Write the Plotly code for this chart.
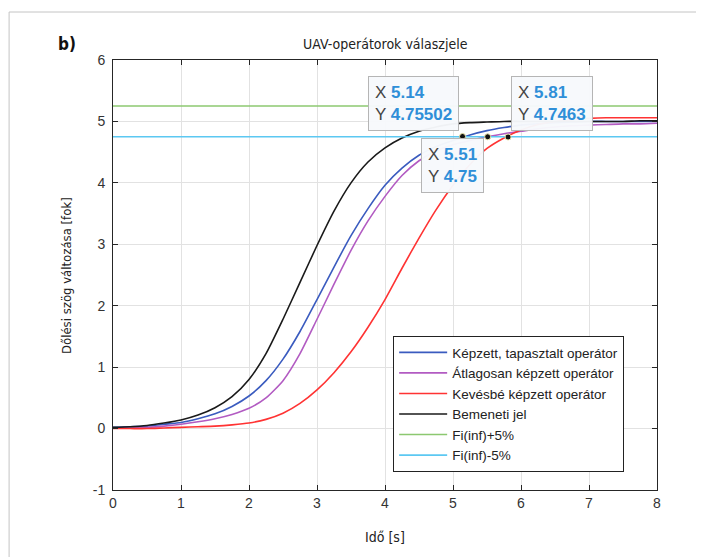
import plotly.graph_objects as go

# ---- data ----
t = [0, 0.25, 0.5, 0.75, 1.0, 1.25, 1.5, 1.75, 2.0, 2.25, 2.5, 2.75, 3.0, 3.25, 3.5, 3.75,
     4.0, 4.25, 4.5, 4.75, 5.0, 5.25, 5.5, 5.75, 6.0, 6.25, 6.5, 6.75, 7.0, 7.25, 7.5, 7.75, 8.0]

kepzett = [0.02, 0.03, 0.04, 0.07, 0.10, 0.16, 0.24, 0.36, 0.53, 0.78, 1.13, 1.58, 2.10, 2.63, 3.14, 3.58,
           3.96, 4.24, 4.45, 4.59, 4.69, 4.78, 4.85, 4.90, 4.94, 4.96, 4.98, 4.99, 5.00, 5.00, 5.00, 5.00, 5.00]
atlagos = [0.01, 0.01, 0.02, 0.04, 0.07, 0.11, 0.16, 0.23, 0.33, 0.50, 0.78, 1.22, 1.78, 2.35, 2.90, 3.38,
           3.78, 4.12, 4.36, 4.52, 4.62, 4.69, 4.75, 4.80, 4.84, 4.88, 4.91, 4.93, 4.94, 4.95, 4.96, 4.96, 4.97]
kevesbe = [0.00, 0.00, 0.00, 0.01, 0.02, 0.03, 0.04, 0.06, 0.09, 0.15, 0.25, 0.41, 0.63, 0.91, 1.25, 1.65,
           2.10, 2.61, 3.10, 3.56, 3.96, 4.30, 4.56, 4.73, 4.86, 4.95, 5.00, 5.03, 5.05, 5.06, 5.06, 5.06, 5.06]
bemeneti = [0.02, 0.03, 0.05, 0.09, 0.14, 0.22, 0.34, 0.52, 0.80, 1.22, 1.78, 2.38, 2.98, 3.54, 4.00, 4.34,
            4.57, 4.73, 4.84, 4.91, 4.96, 4.98, 4.99, 5.00, 5.00, 5.00, 5.00, 5.00, 5.00, 5.00, 5.00, 5.01, 5.01]
fi_plus = [5.25, 5.25]
fi_minus = [4.75, 4.75]
fi_t = [0, 8]

tip_x = [5.14, 5.51, 5.81]
tip_y = [4.75502, 4.75, 4.7463]
tip_box_x = [3.744, 4.534, 5.857]
tip_box_y = [5.745, 4.727, 5.745]

names = ["Képzett, tapasztalt operátor", "Átlagosan képzett operátor", "Kevésbé képzett operátor",
         "Bemeneti jel", "Fi(inf)+5%", "Fi(inf)-5%"]
colors = ["#3a5bbf", "#b25bc2", "#ff3333", "#1a1a1a", "#8cc870", "#5cc8f2"]

x_ticks = [0, 1, 2, 3, 4, 5, 6, 7, 8]
y_ticks = [-1, 0, 1, 2, 3, 4, 5, 6]
y_tick_text = ["-1", "0", "1", "2", "3", "4", "5", "6"]

NARROW = "DejaVu Sans Condensed, Liberation Sans Narrow, sans-serif"
ARIAL = "Liberation Sans, Arial, sans-serif"

fig = go.Figure()
series = [(t, kepzett), (t, atlagos), (t, kevesbe), (t, bemeneti), (fi_t, fi_plus), (fi_t, fi_minus)]
for (xs, ys), n, c in zip(series, names, colors):
    fig.add_trace(go.Scatter(x=xs, y=ys, mode="lines", name=n,
                             line=dict(color=c, width=1.6, shape="spline", smoothing=0.6)))

fig.add_trace(go.Scatter(x=tip_x, y=tip_y, mode="markers", showlegend=False,
                         marker=dict(color="#111111", size=6, line=dict(color="#e9e2a8", width=1))))

for bx, by, tx, ty in zip(tip_box_x, tip_box_y, tip_x, tip_y):
    fig.add_annotation(
        x=bx, y=by, xref="x", yref="y", xanchor="left", yanchor="top", showarrow=False,
        align="left",
        text=(f"<span style='color:#444'>X</span> <b><span style='color:#2f8fd8'>{tx:g}</span></b><br>"
              f"<span style='color:#444'>Y</span> <b><span style='color:#2f8fd8'>{ty:g}</span></b>"),
        font=dict(family=ARIAL, size=17),
        bgcolor="rgba(247,249,252,0.97)", bordercolor="#b5b5b5", borderwidth=1, borderpad=6)

# title, panel label, axis titles
fig.add_annotation(x=0.5, y=1.037, xref="paper", yref="paper", showarrow=False,
                   xanchor="center", yanchor="middle",
                   text="UAV-operátorok válaszjele", font=dict(family=NARROW, size=14, color="#222"))
fig.add_annotation(x=-0.0846, y=1.037, xref="paper", yref="paper", showarrow=False,
                   xanchor="center", yanchor="middle",
                   text="<b>b)</b>", font=dict(family=NARROW, size=17, color="#111"))
fig.add_annotation(x=-0.0864, y=0.5, xref="paper", yref="paper", showarrow=False, textangle=-90,
                   xanchor="center", yanchor="middle",
                   text="Dőlési szög változása [fok]", font=dict(family=NARROW, size=13, color="#222"))
fig.add_annotation(x=0.5, y=-0.109, xref="paper", yref="paper", showarrow=False,
                   xanchor="center", yanchor="middle",
                   text="Idő [s]", font=dict(family=NARROW, size=14, color="#222"))

# outer frame of the figure
fig.add_shape(type="line", xref="paper", yref="paper", x0=-0.191, x1=1.2, y0=1.1116, y1=1.1116,
              line=dict(color="#c4c4c4", width=1))
fig.add_shape(type="line", xref="paper", yref="paper", x0=-0.191, x1=-0.191, y0=-0.2, y1=1.1116,
              line=dict(color="#c4c4c4", width=1))

axis_common = dict(showgrid=True, gridcolor="#e2e2e2", gridwidth=1, zeroline=False,
                   showline=True, linecolor="#262626", linewidth=1, mirror="ticks",
                   ticks="inside", ticklen=5, tickcolor="#262626",
                   tickfont=dict(family=ARIAL, size=14, color="#333"))
fig.update_xaxes(range=[0, 8], tickvals=x_ticks, **axis_common)
fig.update_yaxes(range=[-1, 6], tickvals=y_ticks, ticktext=y_tick_text, ticklabelstandoff=4, **axis_common)

# page body has an 8px margin, so the figure is 8px smaller and shifted
fig.update_layout(
    width=696, height=549,
    margin=dict(l=105, r=47, t=52, b=67),
    paper_bgcolor="white", plot_bgcolor="white",
    showlegend=True,
    legend=dict(x=0.515, y=0.358, xanchor="left", yanchor="top",
                bgcolor="white", bordercolor="#222", borderwidth=1,
                font=dict(family=ARIAL, size=13.5, color="#222"),
                itemwidth=48, tracegroupgap=0),
)

fig.write_html("out.html")
